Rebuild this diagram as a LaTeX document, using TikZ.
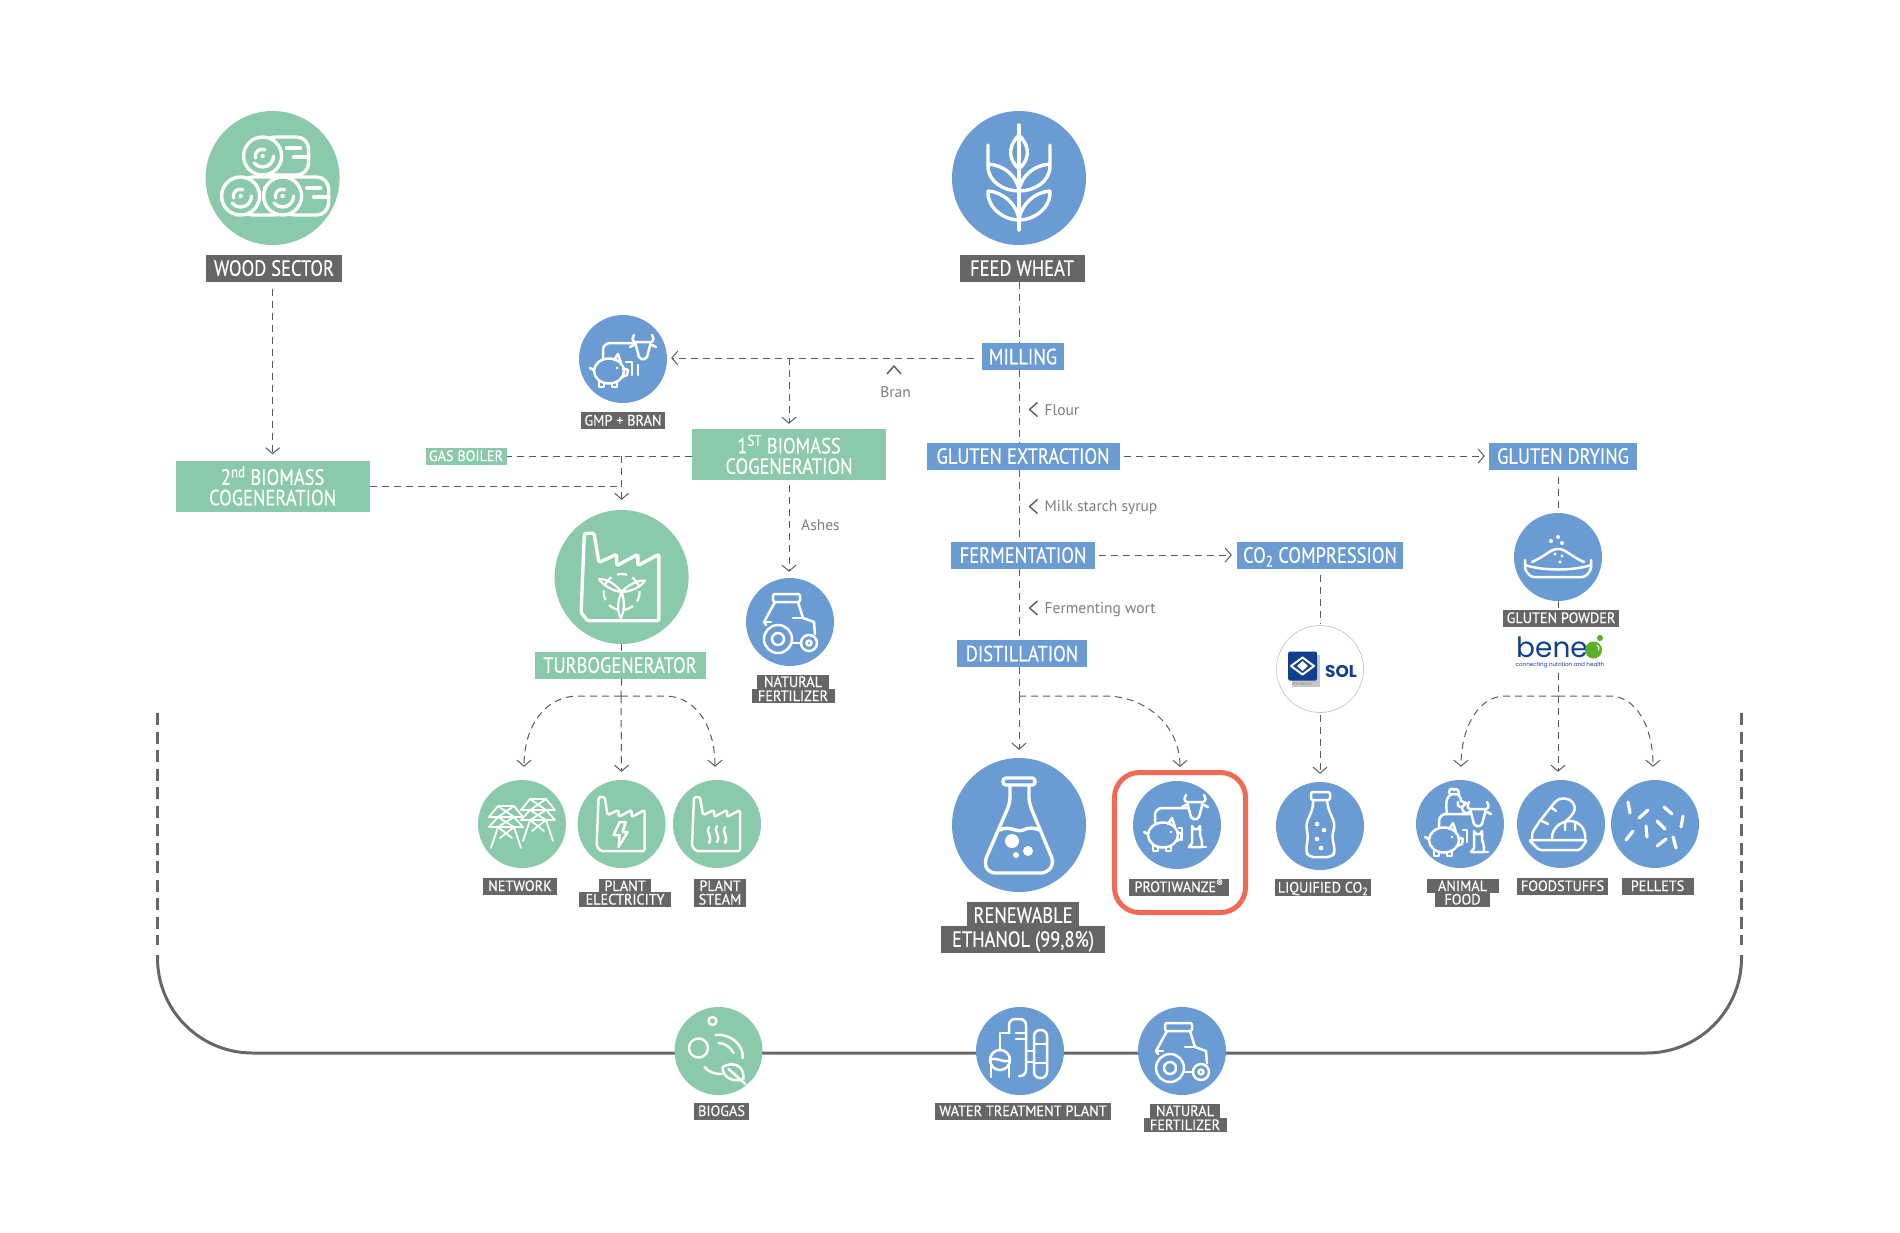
\documentclass[tikz,border=0pt]{standalone}
\usepackage{fontspec}
\setmainfont{PT Sans}[FakeStretch=0.84,FakeBold=0.3]
\newfontfamily\tagfont{PT Sans}[FakeStretch=0.95,FakeBold=0.2]
\newfontfamily\notefont{PT Sans}
\newfontfamily\logofont{Poppins}
\usetikzlibrary{arrows.meta}

\definecolor{wgreen}{HTML}{8AC9A9}
\definecolor{wblue}{HTML}{6A9BD3}
\definecolor{wgray}{HTML}{666666}
\definecolor{wdark}{HTML}{5A5A5A}
\definecolor{wred}{HTML}{EF6A55}
\definecolor{wnavy}{HTML}{123F8C}
\definecolor{wleaf}{HTML}{5DAE2C}

\tikzset{
  icow/.initial=2.5pt,
  ico/.style={white,line width=\pgfkeysvalueof{/tikz/icow},line cap=round,line join=round},
  pics/chev/.style={code={\draw[wdark,line width=1.4pt,line join=round] (4,-7) -- (-4,0) -- (4,7);}},
  pics/bale/.style={code={
    \draw[ico,fill=wgreen,rounded corners=12pt] (0,-19) -- (46,-19) -- (46,19) -- (0,19) -- cycle;
    \draw[ico,fill=wgreen] (0,0) circle (19);
    \fill[white] (0,0) circle (2.2);
    \draw[ico] (11,0) arc (0:140:11);
    \draw[ico] (-7,2) arc (165:290:7);
    \draw[ico] (24,-8) -- (38,-8) (31,1) -- (46,1);
  }},
  pics/wheaticon/.style={code={
    \draw[ico] (0,-53) -- (0,52);
    \draw[ico] (0,-43) .. controls (-8,-35) and (-14,-22) .. (0,-9) .. controls (14,-22) and (8,-35) .. (0,-43);
    \draw[ico] (-31,-33) -- (-31,-12) .. controls (-31,4) and (-15,13) .. (0,13) .. controls (-2,-3) and (-16,-13) .. (-31,-14);
    \draw[ico] (31,-33) -- (31,-12) .. controls (31,4) and (15,13) .. (0,13) .. controls (2,-3) and (16,-13) .. (31,-14);
    \draw[ico] (-31,13) .. controls (-32,30) and (-15,42) .. (0,42) .. controls (-2,26) and (-16,14) .. (-31,13);
    \draw[ico] (31,13) .. controls (32,30) and (15,42) .. (0,42) .. controls (2,26) and (16,14) .. (31,13);
  }},
  pics/cow/.style={code={
    \draw[ico,rounded corners=2pt] (-8,-8) -- (8,-8) -- (3.5,9) -- (-3.5,9) -- cycle;
    \draw[ico] (-8,-8) .. controls (-11,-9) and (-11,-12) .. (-9,-15) (8,-8) .. controls (11,-9) and (11,-12) .. (9,-15);
    \draw[ico] (-9,-5) -- (-13,-3) (9,-5) -- (13,-3);
  }},
  pics/pig/.style={code={
    \draw[ico] (0,0) ellipse (15 and 12.5);
    \draw[ico] (-15,-1) -- (-19,-3);
    \draw[ico] (5,-11) -- (9,-17) -- (12,-8);
    \draw[ico] (14,-3) -- (19,-1) -- (18,4) -- (13,6);
    \draw[ico] (-10,10) -- (-10,16) -- (-5,16) -- (-5,12) (3,12) -- (3,16) -- (8,16) -- (8,10);
    \fill[white] (8,-3) circle (1.4);
  }},
  pics/cat/.style={code={
    \draw[ico] (-4,-11) -- (-2,-8) -- (2,-8) -- (4,-11) -- (4,-2) .. controls (6,2) and (6,6) .. (6,10) -- (-7,10) -- (-4,6) -- (-4,-11);
    \draw[ico] (6,10) -- (10,10);
  }},
  pics/gmpicon/.style={code={
    \pic at (20,-9) {cow};
    \pic at (-14,12) {pig};
    \draw[ico,rounded corners=7pt] (12,-16) -- (-20,-16) -- (-20,0);
    \draw[ico] (3,3) -- (9,3) -- (9,16) (15,6) -- (15,16);
  }},
  pics/protiicon/.style={code={
    \pic at (18,-15) {cow};
    \pic at (-14,10) {pig};
    \pic at (19,12) {cat};
    \draw[ico,rounded corners=7pt] (10,-17) -- (-22,-17) -- (-22,-3);
    \draw[ico] (2,3) -- (5,3) -- (5,15);
  }},
  pics/foodicon/.style={code={
    \pic at (18,-7) {cow};
    \pic at (-16,16) {pig};
    \pic at (18,18) {cat};
    \draw[ico,rounded corners=7pt] (10,-10) -- (-21,-10) -- (-21,3);
    \draw[ico] (3,6) -- (7,6) -- (7,18);
    \draw[ico] (-13,-11) .. controls (-15,-22) and (-13,-30) .. (-6,-30) .. controls (-1,-30) and (1,-27) .. (1,-23) -- (6,-21) -- (2,-17) .. controls (2,-13) and (4,-12) .. (7,-10);
    \draw[ico] (-11,-31) .. controls (-11,-36) and (-7,-36) .. (-6,-34) .. controls (-4,-36) and (-1,-35) .. (-1,-29);
    \draw[ico] (-2,-22) .. controls (-3,-18) and (-1,-17) .. (2,-17);
  }},
  pics/factory/.style={code={
    \draw[ico,rounded corners=1.5pt] (-25,22) -- (-23,-27) -- (-17,-27) -- (-14,-9) -- (-3,-14) -- (-3,-7) -- (10,-14) -- (10,-7) -- (23,-14) -- (23,27) -- (-21,27) -- cycle;
  }},
  pics/blade/.style={code={
    \draw[ico] (0,0) .. controls (-4,-8) and (-5,-18) .. (-2,-26) .. controls (3,-20) and (3,-8) .. (0,0);
  }},
  pics/turbine/.style={code={
    \draw[ico,dash pattern=on 10pt off 6pt,line cap=butt] (0,0) circle (18);
    \pic[rotate=56] at (0,0) {blade};
    \pic[rotate=-68] at (0,0) {blade};
    \pic[rotate=174] at (0,0) {blade};
    \fill[white] (0,0) circle (2);
  }},
  pics/bolt/.style={code={
    \draw[ico] (-2,-2) -- (-8,11) -- (-2,11) -- (-3,23) -- (6,8) -- (1,8) -- (4,-2) -- cycle;
  }},
  pics/steam/.style={code={
    \draw[ico] (-8,3) .. controls (-12,8) and (-4,12) .. (-8,19);
    \draw[ico] (0,2) .. controls (-4,7) and (4,11) .. (0,18);
    \draw[ico] (8,3) .. controls (4,8) and (12,12) .. (8,19);
  }},
  pics/tractor/.style={code={
    \draw[ico,rounded corners=2pt] (-17,-28) rectangle (10,-20);
    \draw[ico] (-15,-20) -- (-26,0) -- (-24,3);
    \draw[ico] (8,-20) -- (13,-4) -- (24,0) -- (25,12);
    \draw[ico] (-26,0) -- (-19,0) (3,-4) -- (13,-4);
    \draw[ico] (1,21) -- (11,21);
    \draw[ico] (-12,17) circle (14) (-12,17) circle (6);
    \draw[ico] (19,21) circle (8) (19,21) circle (2.5);
  }},
  pics/pylon/.style={code={
    \draw[ico,line width=1.8pt] (-8,0) -- (8,0) -- (17,11) -- (-17,11) -- cycle;
    \draw[ico,line width=1.8pt] (-8,0) -- (8,11) (8,0) -- (-8,11);
    \draw[ico,line width=1.8pt] (-8,11) -- (-17,21) -- (17,21) -- (8,11);
    \draw[ico,line width=1.8pt] (-8,11) -- (8,21) (8,11) -- (-8,21);
    \draw[ico,line width=1.8pt] (-8,21) -- (-15,42) (8,21) -- (15,42) (-8,21) -- (6,32) (8,21) -- (-6,32);
  }},
  pics/flask/.style={code={
    \draw[ico,rounded corners=3pt] (-16,-47) rectangle (16,-40);
    \draw[ico,rounded corners=6pt] (-9,-40) -- (-9,-22) -- (-35,38) -- (-30,48) -- (28,48) -- (35,38) -- (10,-22) -- (10,-40);
    \draw[ico] (-19,5) .. controls (-10,0) and (-2,8) .. (4,5) .. controls (10,2) and (15,3) .. (21,5);
    \fill[white] (-7,16) circle (7) (9,26) circle (5) (-3,30) circle (3);
  }},
  pics/bottle/.style={code={
    \draw[ico,rounded corners=2pt] (-9,-34) rectangle (10,-26);
    \draw[ico,rounded corners=5pt] (-7,-26) -- (-7,-18) -- (-14,-2) -- (-12,11) -- (-14,24) -- (-12,31) -- (13,31) -- (15,24) -- (12,11) -- (15,-2) -- (8,-18) -- (7,-26);
    \fill[white] (-3,-2) circle (2.3) (4,4) circle (2.3) (-3,13) circle (2.3) (1,22) circle (2.3);
  }},
  pics/powder/.style={code={
    \draw[ico,rounded corners=3pt] (-33,3) -- (-33,13) -- (-27,20) -- (27,20) -- (33,13) -- (33,3);
    \draw[ico] (-33,8) .. controls (-15,14) and (15,14) .. (33,8);
    \draw[ico] (-26,5) .. controls (-12,-1) and (-8,-8) .. (0,-8) .. controls (8,-8) and (12,-1) .. (26,5);
    \fill[white] (-7,-16) circle (2) (0,-20) circle (2) (4,-14) circle (2) (-3,-3) circle (1.7) (4,-1) circle (1.7) (2,5) circle (1.7);
  }},
  pics/bread/.style={code={
    \draw[ico,rounded corners=2pt] (-32,16) -- (26,16) -- (19,26) -- (-22,26) -- cycle;
    \draw[ico] (-29,14) .. controls (-30,8) and (-26,5) .. (-22,-2) -- (-6,-22) .. controls (-2,-27) and (8,-27) .. (12,-21) .. controls (15,-17) and (14,-12) .. (10,-8) -- (4,-2);
    \draw[ico] (-9,14) .. controls (-9,4) and (0,-3) .. (9,-3) .. controls (18,-3) and (25,5) .. (24,14);
    \draw[ico] (-19,-3) -- (-13,0) (-9,-16) -- (-5,-13) (4,-2) -- (4,6) (14,-2) -- (14,6);
  }},
  pics/pellets/.style={code={
    \draw[ico,line width=3.2pt] (-27,-22) -- (-25,-11) (-16,-6) -- (-7,-14) (9,-17) -- (17,-10) (28,-8) -- (26,3) (2,-3) -- (10,5) (-9,2) -- (-8,13) (-29,16) -- (-22,7) (2,22) -- (11,15) (18,13) -- (21,24);
  }},
  pics/biogasicon/.style={code={
    \draw[ico] (-6,-30) circle (4) (-20,-3) circle (9.5);
    \draw[ico] (-3,-16) .. controls (12,-18) and (26,-5) .. (24,7);
    \draw[ico] (0,-8) .. controls (6,-8) and (12,-4) .. (15,2);
    \draw[ico] (-14,16) .. controls (-10,21) and (-4,23) .. (3,23);
    \draw[ico] (4,16) .. controls (14,10) and (26,14) .. (25,28) .. controls (14,32) and (4,26) .. (4,16);
    \draw[ico] (10,18) -- (27,33);
  }},
  pics/waterplant/.style={code={
    \draw[ico,rounded corners=6pt] (-11,-18) -- (-11,-32) -- (6,-32) -- (6,25) -- (-1,25);
    \draw[ico] (-4,-18) -- (6,-18) (-4,-12) -- (6,-12);
    \draw[ico,rounded corners=6pt] (14,27) -- (14,-21) -- (27,-21) -- (27,27) -- cycle;
    \draw[ico] (14,-7) -- (27,-7) (14,12) -- (27,12) (6,0) -- (14,0) (6,11) -- (14,11);
    \draw[ico] (-20,-2) -- (-20,-18) -- (-11,-18);
    \draw[ico] (-20,9) circle (10);
    \draw[ico] (-30,9) .. controls (-24,5) and (-16,13) .. (-10,9);
    \draw[ico] (-29,15) -- (-29,26) (-11,15) -- (-11,26);
  }}
}

\begin{document}
\begin{tikzpicture}[x=1pt,y=-1pt,>={Straight Barb[length=6pt,width=14pt]},
  flow/.style={wdark,line width=1pt,dash pattern=on 7pt off 5pt},
  bigc/.style={circle,inner sep=0pt,minimum size=134pt},
  smallc/.style={circle,inner sep=0pt,minimum size=88pt},
  gbox/.style={fill=wgreen,text=white,inner sep=0pt,font=\fontsize{22}{20.5}\selectfont},
  bbox/.style={fill=wblue,text=white,inner sep=0pt,minimum height=27pt,text height=15.5pt,text depth=0pt,font=\fontsize{22}{24}\selectfont},
  dbox/.style={fill=wgray,text=white,inner sep=0pt,minimum height=27pt,text height=15.5pt,text depth=0pt,font=\fontsize{22}{24}\selectfont},
  tag/.style={fill=wgray,text=white,inner sep=0pt,minimum height=17pt,text height=10pt,text depth=0pt,font=\tagfont\fontsize{15}{15}\selectfont},
  tagline/.style={tag,minimum height=14.5pt},
  note/.style={text=wgray!85,inner sep=0pt,font=\notefont\fontsize{15.5}{16}\selectfont}]
  \useasboundingbox (0,0) rectangle (1900,1232);

  % closed loop along the bottom
  \draw[wgray,line width=3pt,dash pattern=on 12pt off 6.5pt] (157.5,713) -- (157.5,945);
  \draw[wgray,line width=3pt,dash pattern=on 12pt off 6.5pt] (1741.5,713) -- (1741.5,945);
  \draw[wgray,line width=3pt,rounded corners=95pt] (157.5,955) -- (157.5,1053) -- (1741.5,1053) -- (1741.5,955);

  % circles
  \node[bigc,fill=wgreen] (wood) at (272.6,178) {};
  \node[bigc,fill=wblue] (wheat) at (1019,178) {};
  \node[smallc,fill=wblue] (gmp) at (623,359) {};
  \node[bigc,fill=wgreen] (turbo) at (621.6,577) {};
  \node[smallc,fill=wblue] (natfert) at (790,622) {};
  \node[smallc,fill=wgreen] (network) at (522,824) {};
  \node[smallc,fill=wgreen] (plantelec) at (621.6,824) {};
  \node[smallc,fill=wgreen] (plantsteam) at (717,824) {};
  \node[bigc,fill=wblue] (ethanol) at (1019,825) {};
  \node[smallc,fill=wblue] (proti) at (1177,825) {};
  \node[smallc,draw=black!25,line width=0.6pt,fill=white,minimum size=87pt] (sol) at (1320,669) {};
  \node[smallc,fill=wblue] (liquid) at (1320,826) {};
  \node[smallc,fill=wblue] (powder) at (1558,557) {};
  \node[smallc,fill=wblue] (animal) at (1460,824) {};
  \node[smallc,fill=wblue] (foodstuff) at (1561,824) {};
  \node[smallc,fill=wblue] (pellet) at (1655,824) {};
  \node[smallc,fill=wgreen] (biogas) at (718.5,1051) {};
  \node[smallc,fill=wblue] (water) at (1020,1051) {};
  \node[smallc,fill=wblue] (natfertb) at (1182,1051) {};
  \node[draw=wred,line width=5pt,rounded corners=25pt,minimum width=131pt,minimum height=140pt,inner sep=0pt] (protibox) at (1180,842.5) {};

  % icons
  \begin{scope}[icow=3.4pt]
    \pic at ([shift={(-10pt,22pt)}]wood.center) {bale};
    \pic at ([shift={(-32pt,-18pt)}]wood.center) {bale};
    \pic at ([shift={(10pt,-18pt)}]wood.center) {bale};
    \pic at (wheat) {wheaticon};
    \pic[scale=1.62] at (turbo) {factory};
    \pic at (ethanol) {flask};
  \end{scope}
  \pic[icow=2.2pt] at ([yshift=-15pt]turbo.center) {turbine};
  \pic at (gmp) {gmpicon};
  \pic at (natfert) {tractor};
  \pic at (natfertb) {tractor};
  \pic at ([shift={(-16pt,18pt)}]network.center) {pylon};
  \pic at ([shift={(16pt,25pt)}]network.center) {pylon};
  \pic at (plantelec) {factory};
  \pic at (plantelec) {bolt};
  \pic at (plantsteam) {factory};
  \pic at (plantsteam) {steam};
  \pic at (proti) {protiicon};
  \pic at (liquid) {bottle};
  \pic at (powder) {powder};
  \pic at (animal) {foodicon};
  \pic at (foodstuff) {bread};
  \pic at (pellet) {pellets};
  \pic at (biogas) {biogasicon};
  \pic at (water) {waterplant};

  % boxes on the process
  \node[dbox,minimum width=136pt] (woodlbl) at (274,268) {WOOD SECTOR};
  \node[dbox,minimum width=125pt] (wheatlbl) at (1022,268) {FEED WHEAT};
  \node[bbox,minimum width=82pt] (milling) at (1023,356.5) {MILLING};
  \node[bbox,minimum width=193pt] (extract) at (1023,456) {GLUTEN EXTRACTION};
  \node[bbox,minimum width=148pt] (drying) at (1563,456) {GLUTEN DRYING};
  \node[bbox,minimum width=144pt] (ferment) at (1023,555) {FERMENTATION};
  \node[bbox,minimum width=166pt] (compress) at (1320,555) {CO\textsubscript{2} COMPRESSION};
  \node[bbox,minimum width=130pt] (distill) at (1022,653.5) {DISTILLATION};
  \node[gbox,minimum width=194pt,minimum height=51pt,align=center] (first) at (789,454.5) {1\textsuperscript{ST} BIOMASS\\COGENERATION};
  \node[gbox,minimum width=194pt,minimum height=51pt,align=center] (second) at (272.6,486) {2\textsuperscript{nd} BIOMASS\\COGENERATION};
  \node[gbox,minimum width=81pt,minimum height=17pt,text height=10pt,text depth=0pt,font=\tagfont\fontsize{15}{15}\selectfont] (boiler) at (466,456) {GAS BOILER};
  \node[gbox,minimum width=171pt,minimum height=27pt,text height=15.5pt,text depth=0pt] (turbolbl) at (620,665) {TURBOGENERATOR};

  % captions
  \node[tag,minimum width=84pt] (gmplbl) at (623,420.5) {GMP + BRAN};
  \node[tagline,minimum width=72pt] (natferta) at (793,682) {NATURAL};
  \node[tagline,minimum width=83pt] (natfertc) at (793,696) {FERTILIZER};
  \node[tag,minimum width=74pt] (networklbl) at (520,886) {NETWORK};
  \node[tagline,minimum width=52pt] (elecal) at (625,886) {PLANT};
  \node[tagline,minimum width=92pt] (elecbl) at (625,899.5) {ELECTRICITY};
  \node[tagline,minimum width=52pt] (steamal) at (720,886) {PLANT};
  \node[tagline,minimum width=52pt] (steambl) at (720,899.5) {STEAM};
  \node[dbox,minimum width=112pt] (ethanola) at (1023,915) {RENEWABLE};
  \node[dbox,minimum width=164pt] (ethanolb) at (1023,939) {ETHANOL (99,8\%)};
  \node[tag,minimum width=100pt] (protilbl) at (1179,887) {PROTIWANZE\textsuperscript{®}};
  \node[tag,minimum width=96pt] (liquidlbl) at (1323,887.5) {LIQUIFIED CO\textsubscript{2}};
  \node[tag,minimum width=116pt] (powderlbl) at (1561,618) {GLUTEN POWDER};
  \node[tagline,minimum width=72pt] (animala) at (1462.5,886) {ANIMAL};
  \node[tagline,minimum width=55pt] (animalb) at (1462.5,899.5) {FOOD};
  \node[tag,minimum width=91pt] (foodlbl) at (1562.5,886) {FOODSTUFFS};
  \node[tag,minimum width=72pt] (pelletlbl) at (1657.5,886) {PELLETS};
  \node[tag,minimum width=55pt] (biogaslbl) at (721.5,1111) {BIOGAS};
  \node[tag,minimum width=176pt] (waterlbl) at (1023,1111) {WATER TREATMENT PLANT};
  \node[tagline,minimum width=70pt] (natfertd) at (1185,1111) {NATURAL};
  \node[tagline,minimum width=83pt] (natferte) at (1185,1125) {FERTILIZER};

  % logos
  \fill[black!22] (1292,655) rectangle (1320,687);
  \node[fill=wnavy,rounded corners=1.5pt,minimum size=29pt,inner sep=0pt] (solmark) at (1302.5,666) {};
  \draw[white,line width=2pt,line join=round] (1302.5,657.5) -- (1314,666) -- (1302.5,674.5) -- (1291,666) -- cycle;
  \fill[white] (1302.5,661) -- (1308,666) -- (1302.5,671) -- (1297,666) -- cycle;
  \node[inner sep=0pt,text=wnavy,font=\logofont\bfseries\fontsize{17}{18}\selectfont] (solname) at (1341,671.5) {SOL};
  \node[inner sep=0pt,text=black!50,font=\logofont\fontsize{3.5}{4}\selectfont] (solgroup) at (1302,684) {SOL GROUP};
  \node[inner sep=0pt,text=wnavy,font=\logofont\fontsize{28}{28}\selectfont,anchor=base west] (bene) at (1516,657) {bene};
  \fill[wleaf] (1593.5,650) circle (8.5) (1600,638) circle (3);
  \draw[white,line width=1pt] (1597,645) arc (-60:30:4);
  \node[inner sep=0pt,text=wnavy,font=\logofont\fontsize{5.6}{6}\selectfont] (beneline) at (1560,665.5) {connecting nutrition and health};

  % notes
  \node[note] (bran) at (895.5,392) {Bran};
  \node[note,anchor=west] (flour) at (1044.5,410) {Flour};
  \node[note,anchor=west] (syrup) at (1044.5,507.5) {Milk starch syrup};
  \node[note,anchor=west] (wort) at (1044.5,610) {Fermenting wort};
  \node[note,anchor=west] (ashes) at (801,525) {Ashes};
  \pic[rotate=-90] at (894,370) {chev};
  \pic at (1033.5,409.5) {chev};
  \pic at (1033.5,506.5) {chev};
  \pic at (1033.5,608) {chev};

  % branch points
  \coordinate (branT) at (621,696);
  \coordinate (branD) at (1019,696);
  \coordinate (branB) at (1558,696);
  \coordinate (protin) at (1180,767);

  % connectors
  \draw[flow,->,shorten <=7pt,shorten >=6pt] (wood |- woodlbl.south) -- (wood |- second.north);
  \draw[flow] (wheat |- wheatlbl.south) -- (wheat |- milling.north);
  \draw[flow] (wheat |- milling.south) -- (wheat |- extract.north);
  \draw[flow] (wheat |- extract.south) -- (wheat |- ferment.north);
  \draw[flow] (wheat |- ferment.south) -- (wheat |- distill.north);
  \draw[flow] (wheat |- distill.south) -- (branD);
  \draw[flow,->,shorten >=8pt] (branD) -- (ethanol.north);
  \draw[flow,->,shorten <=8pt,shorten >=4pt] (milling.west |- 0,358) -- (gmp.east |- 0,358);
  \draw[flow,->,shorten >=5pt] (first.north |- 0,358) -- (first.north);
  \draw[flow] (first.west |- boiler.east) -- (boiler.east);
  \draw[flow,->,shorten >=10pt] (turbo.north |- boiler.east) -- (turbo.north);
  \draw[flow] (second.east) -- (second.east -| turbo.north);
  \draw[flow,->,shorten <=5pt,shorten >=6pt] (first.south) -- (natfert.north -| first.south);
  \draw[flow] (turbo.south) -- (turbo.south |- turbolbl.north);
  \draw[flow] (turbo.south |- turbolbl.south) -- (branT);
  \draw[flow,->,shorten >=8pt] (branT) -- (plantelec.north);
  \draw[flow,->] (branT) -- (578,696) .. controls (546,696) and (524,725) .. ([shift={(2pt,13pt)}]network.north);
  \draw[flow,->] (branT) -- (665,696) .. controls (695,696) and (715,725) .. ([shift={(-2pt,13pt)}]plantsteam.north);
  \draw[flow,->] (branD) -- (1105,696) .. controls (1145,696) and (1180,725) .. (protin);
  \draw[flow,->,shorten <=4pt,shorten >=4pt] (extract.east) -- (drying.west);
  \draw[flow,->,shorten <=4pt,shorten >=5pt] (ferment.east) -- (compress.west);
  \draw[flow,shorten <=6pt,shorten >=2pt] (compress.south) -- (sol.north);
  \draw[flow,->,shorten <=2pt,shorten >=8pt] (sol.south) -- (liquid.north);
  \draw[flow,shorten <=7pt,shorten >=1pt] (powder |- drying.south) -- (powder.north);
  \draw[flow] (powder.south) -- (powder |- powderlbl.north);
  \draw[flow,shorten <=4pt] (powder |- beneline.south) -- (branB);
  \draw[flow,->,shorten >=8pt] (branB) -- (branB |- foodstuff.north);
  \draw[flow,->] (branB) -- (1505,696) .. controls (1480,696) and (1461,725) .. ([shift={(1pt,13pt)}]animal.north);
  \draw[flow,->] (branB) -- (1610,696) .. controls (1635,696) and (1653,725) .. ([shift={(-2pt,13pt)}]pellet.north);
\end{tikzpicture}
\end{document}
